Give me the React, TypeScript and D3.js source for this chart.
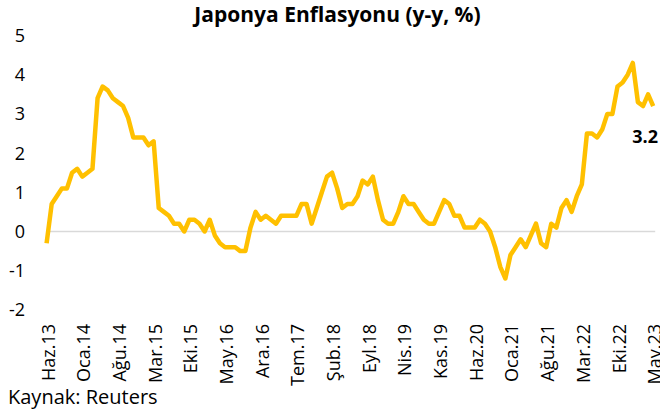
import React from "react";
import * as d3 from "d3";

// Japan CPI y/y, monthly Haz.13 .. May.23
const values2013 = [-0.3, 0.7, 0.9, 1.1, 1.1, 1.5, 1.6];
const values2014 = [1.4, 1.5, 1.6, 3.4, 3.7, 3.6, 3.4, 3.3, 3.2, 2.9, 2.4, 2.4];
const values2015 = [2.4, 2.2, 2.3, 0.6, 0.5, 0.4, 0.2, 0.2, 0.0, 0.3, 0.3, 0.2];
const values2016 = [0.0, 0.3, -0.1, -0.3, -0.4, -0.4, -0.4, -0.5, -0.5, 0.1, 0.5, 0.3];
const values2017 = [0.4, 0.3, 0.2, 0.4, 0.4, 0.4, 0.4, 0.7, 0.7, 0.2, 0.6, 1.0];
const values2018 = [1.4, 1.5, 1.1, 0.6, 0.7, 0.7, 0.9, 1.3, 1.2, 1.4, 0.8, 0.3];
const values2019 = [0.2, 0.2, 0.5, 0.9, 0.7, 0.7, 0.5, 0.3, 0.2, 0.2, 0.5, 0.8];
const values2020 = [0.7, 0.4, 0.4, 0.1, 0.1, 0.1, 0.3, 0.2, 0.0, -0.4, -0.9, -1.2];
const values2021 = [-0.6, -0.4, -0.2, -0.4, -0.1, 0.2, -0.3, -0.4, 0.2, 0.1, 0.6, 0.8];
const values2022 = [0.5, 0.9, 1.2, 2.5, 2.5, 2.4, 2.6, 3.0, 3.0, 3.7, 3.8, 4.0];
const values2023 = [4.3, 3.3, 3.2, 3.5, 3.2];

const inflation = [
  ...values2013, ...values2014, ...values2015, ...values2016, ...values2017,
  ...values2018, ...values2019, ...values2020, ...values2021, ...values2022, ...values2023,
];

const xTickLabels = [
  "Haz.13", "Oca.14", "Ağu.14", "Mar.15", "Eki.15", "May.16", "Ara.16", "Tem.17", "Şub.18",
  "Eyl.18", "Nis.19", "Kas.19", "Haz.20", "Oca.21", "Ağu.21", "Mar.22", "Eki.22", "May.23",
];
const labelStep = 7;
const yTicks = [-2, -1, 0, 1, 2, 3, 4, 5];

const title = "Japonya Enflasyonu (y-y, %)";
const source = "Kaynak: Reuters";
const lastLabel = "3.2";

const W = 660;
const H = 418;
const FONT = "'Open Sans', sans-serif";

export default function App() {
  const n = inflation.length;
  const x = d3.scaleLinear().domain([0, n - 1]).range([46.6, 653.2]);
  const y = d3.scaleLinear().domain([-2, 5]).range([309.9, 35.5]);
  const line = d3
    .line<number>()
    .x((_, i) => x(i))
    .y((d) => y(d));

  return (
    <svg
      width={W}
      height={H}
      style={{ position: "absolute", left: 0, top: 0, background: "#fff" }}
      fontFamily={FONT}
    >
      <rect x={0} y={0} width={W} height={H} fill="#fff" />
      <text x={337.5} y={22} textAnchor="middle" fontSize={21} fontWeight="bold" fill="#000">
        {title}
      </text>
      {yTicks.map((t) => (
        <text key={t} x={25} y={y(t)} dy="0.36em" textAnchor="end" fontSize={18} fill="#000">
          {t}
        </text>
      ))}
      <line x1={x(0) + 1.5} x2={x(n - 1) + 2} y1={y(0)} y2={y(0)} stroke="#D9D9D9" strokeWidth={1.5} />
      <path
        d={line(inflation) || ""}
        fill="none"
        stroke="#FFC000"
        strokeWidth={4.5}
        strokeLinejoin="round"
      />
      {xTickLabels.map((lab, k) => {
        const xi = x(k * labelStep) + 8;
        const yi = 324;
        return (
          <text
            key={lab}
            transform={`translate(${xi},${yi}) rotate(-90)`}
            textAnchor="end"
            fontSize={18}
            fill="#000"
          >
            {lab}
          </text>
        );
      })}
      <text x={658} y={143} textAnchor="end" fontSize={18} fontWeight="bold" fill="#000">
        {lastLabel}
      </text>
      <text x={8} y={404} fontSize={20} fill="#000">
        {source}
      </text>
    </svg>
  );
}
